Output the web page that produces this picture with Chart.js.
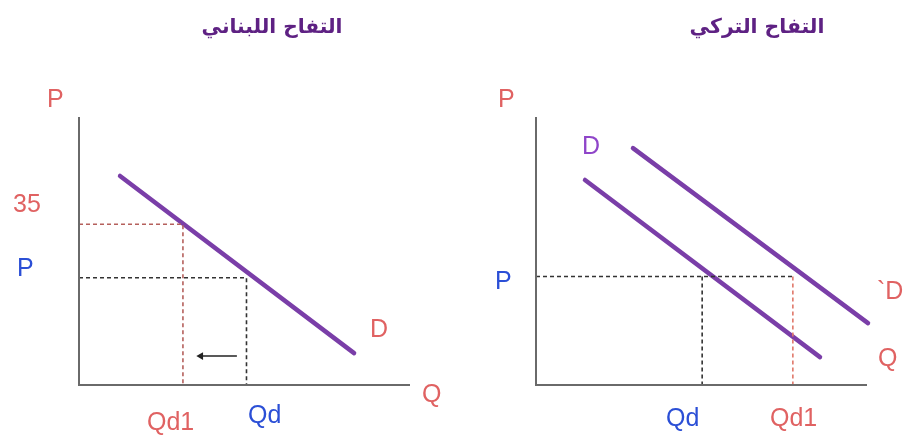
<!DOCTYPE html>
<html><head><meta charset="utf-8">
<script src="https://cdn.jsdelivr.net/npm/chart.js@4"></script>
<style>
html,body{margin:0;padding:0;background:#fff;}
#wrap{position:relative;width:906px;height:439px;overflow:hidden;background:#fff;}
canvas{position:absolute;top:0;}
</style></head><body>
<div id="wrap">
<canvas id="leftPanel" width="453" height="439" style="left:0"></canvas>
<canvas id="rightPanel" width="453" height="439" style="left:453px"></canvas>
</div>
<script>
// ---------------- data ----------------
const panelTitles = ['التفاح اللبناني', 'التفاح التركي'];
const axisMax = 10;                       // Q and P axes run 0..10 (arbitrary units)

// Lebanese apples: movement along the demand curve
const lebDemandQ = [1.24, 8.31];
const lebDemandP = [7.80, 1.19];
const lebPriceLevels = [6.0, 4.0];        // higher price ("35"), original price P
const lebQuantityLevels = [3.14, 5.06];   // Qd1, Qd
const lebArrowQ = [4.77, 3.68];
const lebArrowP = [1.08, 1.08];

// Turkish apples: demand curve shifts right
const trkDemandQ = [1.48, 8.58];
const trkDemandP = [7.65, 1.04];
const trkShiftedDemandQ = [2.93, 10.03];
const trkShiftedDemandP = [8.84, 2.31];
const trkPriceLevel = 4.05;
const trkQuantityLevels = [5.02, 7.76];   // Qd, Qd1

// text labels
const leftLabels  = ['P', '35', 'P', 'D', 'Q', 'Qd1', 'Qd'];
const rightLabels = ['P', 'D', 'P', '`D', 'Q', 'Qd', 'Qd1'];

// ---------------- styling / layout ----------------
const RED = '#e06262', BLUE = '#2b4fd6', PURPLE_TXT = '#8f45c9';
const LINE_PURPLE = '#7a3ea8', AXIS = '#6a6a6a';
const leftStyle  = [RED, RED, BLUE, RED, RED, RED, BLUE];
const rightStyle = [RED, PURPLE_TXT, BLUE, RED, RED, BLUE, RED];
const leftPos  = [[47,107],[13,212],[17,276],[370,337],[422,402],[147,430],[248,423]];
const rightPos = [[498,107],[582,154],[495,289],[877,299],[878,366],[666,426],[770,426]];
const titleLayout = [{cx:272, cy:28, w:141}, {cx:757, cy:28, w:135}];

const pts = (qs, ps) => qs.map((q, i) => ({x: q, y: ps[i]}));
const line = (data, color, width, dash, extra) => Object.assign({
  data, borderColor: color, backgroundColor: color, borderWidth: width,
  borderDash: dash || [], showLine: true, pointRadius: 0, fill: false,
  tension: 0, clip: false
}, extra || {});

function textPlugin(labels, colors, positions, offsetX, title, tl) {
  return {
    id: 'panelText',
    afterDraw(chart) {
      const ctx = chart.ctx;
      ctx.save();
      ctx.textAlign = 'left';
      ctx.textBaseline = 'alphabetic';
      ctx.font = '25px "Liberation Sans", Arial, sans-serif';
      labels.forEach((t, i) => {
        ctx.fillStyle = colors[i];
        ctx.fillText(t, positions[i][0] - offsetX, positions[i][1]);
      });
      // title
      let size = 22;
      ctx.font = 'bold ' + size + 'px "DejaVu Sans", sans-serif';
      const w = ctx.measureText(title).width;
      size = size * tl.w / w;
      ctx.font = 'bold ' + size.toFixed(2) + 'px "DejaVu Sans", sans-serif';
      ctx.fillStyle = '#5e2183';
      ctx.textAlign = 'center';
      ctx.textBaseline = 'middle';
      ctx.direction = 'rtl';
      ctx.fillText(title, tl.cx - offsetX, tl.cy);
      ctx.restore();
    }
  };
}

function baseOptions(pad) {
  return {
    responsive: false, animation: false, devicePixelRatio: 1,
    layout: {padding: pad},
    scales: {
      x: {type: 'linear', min: 0, max: axisMax, display: false},
      y: {type: 'linear', min: 0, max: axisMax, display: false}
    },
    plugins: {legend: {display: false}, tooltip: {enabled: false}, title: {display: false}},
    events: []
  };
}

const axesData = [{x: 0, y: axisMax}, {x: 0, y: 0}, {x: axisMax, y: 0}];

new Chart(document.getElementById('leftPanel'), {
  type: 'scatter',
  data: {datasets: [
    line(axesData, AXIS, 2),
    line([{x: 0, y: lebPriceLevels[0]}, {x: lebQuantityLevels[0], y: lebPriceLevels[0]}, {x: lebQuantityLevels[0], y: 0}], '#b5605c', 1.6, [4, 3]),
    line([{x: 0, y: lebPriceLevels[1]}, {x: lebQuantityLevels[1], y: lebPriceLevels[1]}, {x: lebQuantityLevels[1], y: 0}], '#333333', 1.6, [4, 3]),
    line(pts(lebDemandQ, lebDemandP), LINE_PURPLE, 4.5, [], {borderCapStyle: 'round'}),
    line(pts(lebArrowQ, lebArrowP), '#222222', 1.5, [], {
      pointRadius: [0, 4.5], pointStyle: 'triangle', rotation: 270,
      pointBackgroundColor: '#222222', pointBorderColor: '#222222', pointBorderWidth: 0
    })
  ]},
  options: baseOptions({left: 79, right: 43, top: 117, bottom: 54}),
  plugins: [textPlugin(leftLabels, leftStyle, leftPos, 0, panelTitles[0], titleLayout[0])]
});

new Chart(document.getElementById('rightPanel'), {
  type: 'scatter',
  data: {datasets: [
    line(axesData, AXIS, 2),
    line([{x: 0, y: trkPriceLevel}, {x: trkQuantityLevels[1], y: trkPriceLevel}], '#333333', 1.6, [4, 3]),
    line([{x: trkQuantityLevels[0], y: trkPriceLevel}, {x: trkQuantityLevels[0], y: 0}], '#333333', 1.6, [4, 3]),
    line([{x: trkQuantityLevels[1], y: trkPriceLevel}, {x: trkQuantityLevels[1], y: 0}], '#e0786a', 1.6, [4, 3]),
    line(pts(trkDemandQ, trkDemandP), LINE_PURPLE, 4.5, [], {borderCapStyle: 'round'}),
    line(pts(trkShiftedDemandQ, trkShiftedDemandP), LINE_PURPLE, 4.5, [], {borderCapStyle: 'round'})
  ]},
  options: baseOptions({left: 83, right: 39, top: 117, bottom: 54}),
  plugins: [textPlugin(rightLabels, rightStyle, rightPos, 453, panelTitles[1], titleLayout[1])]
});
</script>
</body></html>
